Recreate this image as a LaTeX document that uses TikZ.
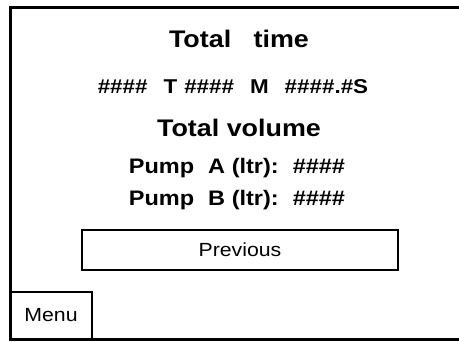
\documentclass[tikz,border=0pt]{standalone}
\usepackage{fontspec}
\setmainfont{Liberation Sans}
\newfontfamily\widesans{Liberation Sans}[FakeStretch=1.12]

\begin{document}
\begin{tikzpicture}[
  x=1pt, y=-1pt,
  heading/.style={font=\widesans\bfseries\fontsize{24}{28}\selectfont, anchor=base, inner sep=0pt},
  value/.style={font=\widesans\bfseries\fontsize{20}{24}\selectfont, anchor=base, inner sep=0pt},
  button/.style={draw, line width=2.5pt, rectangle, font=\widesans\fontsize{19}{22}\selectfont},
]

\useasboundingbox (0,0) rectangle (459,341);

% screen outline, running off the right and bottom edge
\draw[line width=3pt] (470,7) -- (10,7) -- (10,339) -- (470,339);

\node (totaltime) [heading] at (239,47) {Total\ \ \ time};
\node (timeval) [value] at (233,93)
  {\#\#\#\#\hspace{16pt}T\hspace{7pt}\#\#\#\#\hspace{16pt}M\hspace{16pt}\#\#\#\#.\#S};
\node (totalvol) [heading] at (239,136) {Total volume};
\node (pumpa) [value, font=\widesans\bfseries\fontsize{21}{24}\selectfont] at (237,173)
  {Pump\hspace{14pt}A (ltr):\hspace{14pt}\#\#\#\#};
\node (pumpb) [value, font=\widesans\bfseries\fontsize{21}{24}\selectfont] at (237,205)
  {Pump\hspace{14pt}B (ltr):\hspace{14pt}\#\#\#\#};

\node (prev) [button, minimum width=316pt, minimum height=40pt] at (240,250) {Previous};
\node (menu) [button, minimum width=82pt, minimum height=47pt] at (51,315.5) {Menu};

\end{tikzpicture}
\end{document}
